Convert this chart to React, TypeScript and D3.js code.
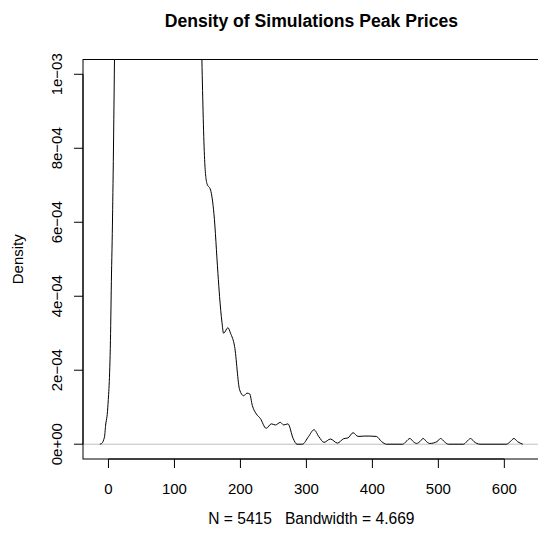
import React from "react";
import * as d3 from "d3";

// Density estimate (x in price units, y in units of 1e-4)
const densityX = [
  -13, -11, -6, -4.5, -1, 3, 4.6, 5.6, 7.1, 9.1, 14, 25, 45, 75, 105, 125, 135,
  141.6, 145.7, 149.2, 154.8, 159.8, 165.9, 168.4, 172, 174.5, 181, 185, 191.2,
  198.8, 204.9, 210, 214, 218, 224, 230, 239, 247, 253, 260.5, 265.6, 272, 280,
  285.7, 294, 303, 311.5, 319, 326.7, 336.4, 347, 356.6, 363, 370.7, 378.3,
  388.5, 396, 406, 414, 421.4, 446, 451, 456.8, 462, 467, 472, 477, 482, 487,
  498, 503.3, 509, 515, 538, 543, 548.9, 554, 563, 603, 609, 614.6, 620, 628,
];
const densityE4 = [
  0, 0.01, 0.2, 0.48, 1.0, 2.8, 4.6, 5.5, 7.3, 10.4, 20, 40, 60, 65, 50, 30, 18,
  10.4, 7.7, 7.05, 6.87, 6.24, 4.62, 3.99, 3.3, 3.0, 3.15, 3.0, 2.64,
  1.47, 1.31, 1.38, 1.36, 1.05, 0.82, 0.7, 0.43, 0.55, 0.52, 0.59, 0.52, 0.55, 0.15,
  0, 0, 0.2, 0.39, 0.2, 0.05, 0.14, 0.03, 0.15, 0.17, 0.31, 0.21,
  0.22, 0.22, 0.21, 0.07, 0, 0, 0.07, 0.155, 0.07, 0.02, 0.07, 0.155, 0.07, 0.02,
  0.07, 0.155, 0.07, 0, 0, 0.07, 0.155, 0.07, 0, 0, 0.07, 0.155, 0.07, 0,
];

const xTicks = [0, 100, 200, 300, 400, 500, 600];
const yTicks = [0, 0.0002, 0.0004, 0.0006, 0.0008, 0.001];
const yTickLabels = ["0e+00", "2e\u221204", "4e\u221204", "6e\u221204", "8e\u221204", "1e\u221203"];
const title = "Density of Simulations Peak Prices";
const xLabel = "N = 5415   Bandwidth = 4.669";
const yLabel = "Density";

const W = 538;
const H = 534;
const left = 83;
const right = 539.7;
const top = 59.5;
const bottom = 459;
const font = "'Liberation Sans', Arial, Helvetica, sans-serif";

export default function App() {
  const x = d3.scaleLinear().domain([-38.6, 653.6]).range([left, right]);
  const y = d3.scaleLinear().domain([-0.00004, 0.00104]).range([bottom, top]);
  const pts: [number, number][] = densityX.map((v, i) => [v, densityE4[i] * 1e-4]);
  const line = d3
    .line<[number, number]>()
    .x((d) => x(d[0]))
    .y((d) => y(d[1]))
    .curve(d3.curveMonotoneX);
  const midX = (left + right) / 2;
  const midY = (top + bottom) / 2;

  return (
    <svg
      width={W}
      height={H}
      style={{ position: "absolute", left: 0, top: 0, background: "#fff" }}
      fontFamily={font}
    >
      <defs>
        <clipPath id="plotclip">
          <rect x={left} y={top} width={right - left} height={bottom - top} />
        </clipPath>
      </defs>
      <rect x={0} y={0} width={W} height={H} fill="#fff" />
      <text x={midX} y={27} textAnchor="middle" fontWeight="bold" fontSize={17.6}>
        {title}
      </text>
      <g clipPath="url(#plotclip)">
        <line x1={left} x2={right} y1={y(0)} y2={y(0)} stroke="#bebebe" strokeWidth={1} />
        <path d={line(pts) || ""} fill="none" stroke="#000" strokeWidth={1} />
      </g>
      <rect x={left} y={top} width={right - left} height={bottom - top} fill="none" stroke="#000" strokeWidth={1} />
      {/* x axis */}
      <line x1={x(xTicks[0])} x2={x(xTicks[xTicks.length - 1])} y1={bottom} y2={bottom} stroke="#000" />
      {xTicks.map((t) => (
        <g key={t}>
          <line x1={x(t)} x2={x(t)} y1={bottom} y2={bottom + 9} stroke="#000" />
          <text x={x(t)} y={494} textAnchor="middle" fontSize={15}>
            {t}
          </text>
        </g>
      ))}
      {/* y axis */}
      <line x1={left} x2={left} y1={y(yTicks[0])} y2={y(yTicks[yTicks.length - 1])} stroke="#000" />
      {yTicks.map((t, i) => (
        <g key={t}>
          <line x1={left - 9} x2={left} y1={y(t)} y2={y(t)} stroke="#000" />
          <text
            transform={`translate(62,${y(t)}) rotate(-90)`}
            textAnchor="middle"
            fontSize={15}
          >
            {yTickLabels[i]}
          </text>
        </g>
      ))}
      <text x={midX} y={524} textAnchor="middle" fontSize={15.6} style={{ whiteSpace: "pre" }}>
        {xLabel}
      </text>
      <text transform={`translate(23,${midY}) rotate(-90)`} textAnchor="middle" fontSize={15}>
        {yLabel}
      </text>
    </svg>
  );
}
